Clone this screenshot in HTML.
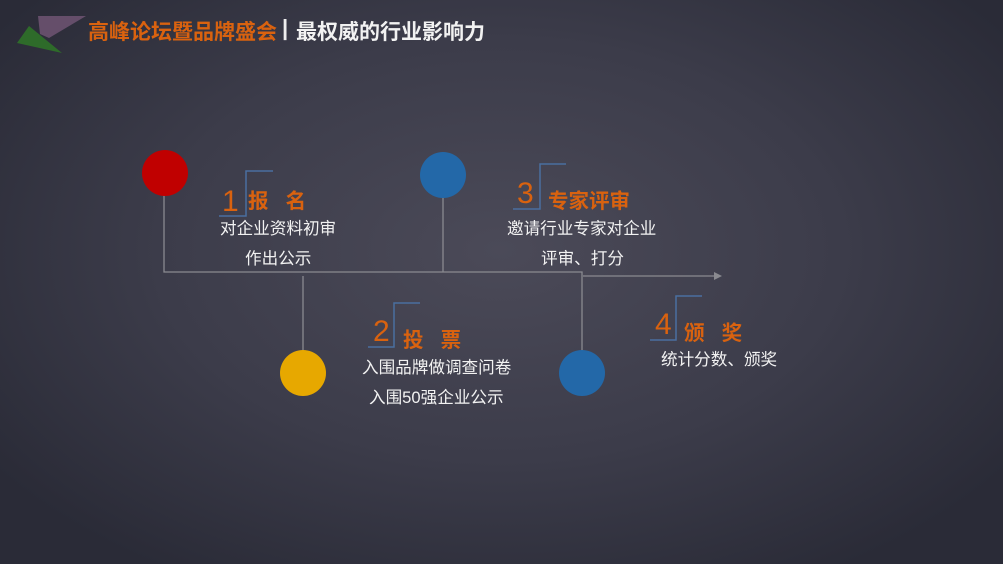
<!DOCTYPE html>
<html><head><meta charset="utf-8"><style>
*{margin:0;padding:0}
body{width:1003px;height:564px;overflow:hidden;position:relative;
background:radial-gradient(ellipse 620px 380px at 500px 250px,#4b4a58 0%,#3c3c4a 55%,#2a2b37 100%);
font-family:"Liberation Sans","Noto Sans CJK SC",sans-serif;}
.t{position:absolute;white-space:nowrap;}
.w{color:#f2f2f2;font-size:16.6px;}
.o{color:#d9620f;font-weight:bold;font-size:20.5px;}
.n{color:#d9620f;font-size:30px;}
</style></head><body>
<svg width="1003" height="564" style="position:absolute;left:0;top:0">
<polygon points="38,16 86,16 49,38 40,34" fill="#6b5270" opacity="0.9"/>
<polygon points="17,43 29,26 62,53" fill="#2e6b2a"/>
<g stroke="#8a8a90" stroke-width="1.3" fill="none">
<path d="M164,190 V272 H582 V352"/>
<path d="M443,196 V272"/>
<path d="M303,276 V352"/>
<path d="M583,276 H718"/>
</g>
<polygon points="714,272 722,276 714,280" fill="#8a8a90"/>
<circle cx="165" cy="173" r="23" fill="#c00000"/>
<circle cx="443" cy="175" r="23" fill="#2368a8"/>
<circle cx="303" cy="373" r="23" fill="#e7a800"/>
<circle cx="582" cy="373" r="23" fill="#2368a8"/>
<g stroke="#4a6fa0" stroke-width="1.5" fill="none">
<path d="M219,216 H246 V171 H273"/>
<path d="M513,209 H540 V164 H566"/>
<path d="M368,347 H394 V303 H420"/>
<path d="M650,340 H676 V296 H702"/>
</g>
</svg>
<div class="t" style="left:88px;top:16px;font-size:21px;font-weight:bold;color:#d9620f">高峰论坛暨品牌盛会</div>
<div class="t" style="left:282px;top:15px;font-size:22px;font-weight:bold;color:#eee">|</div>
<div class="t" style="left:296px;top:16px;font-size:21px;font-weight:bold;color:#f2f2f2">最权威的行业影响力</div>

<div class="t n" style="left:222px;top:185px">1</div>
<div class="t o" style="left:248px;top:184px">报&nbsp;&nbsp;&nbsp;名</div>
<div class="t w" style="left:220px;top:215px">对企业资料初审</div>
<div class="t w" style="left:245px;top:245px">作出公示</div>

<div class="t n" style="left:517px;top:177px">3</div>
<div class="t o" style="left:548px;top:184px">专家评审</div>
<div class="t w" style="left:507px;top:215px">邀请行业专家对企业</div>
<div class="t w" style="left:541px;top:245px">评审、打分</div>

<div class="t n" style="left:373px;top:315px">2</div>
<div class="t o" style="left:403px;top:323px">投&nbsp;&nbsp;&nbsp;票</div>
<div class="t w" style="left:362px;top:354px">入围品牌做调查问卷</div>
<div class="t w" style="left:369px;top:384px">入围50强企业公示</div>

<div class="t n" style="left:655px;top:308px">4</div>
<div class="t o" style="left:684px;top:316px">颁&nbsp;&nbsp;&nbsp;奖</div>
<div class="t w" style="left:661px;top:346px">统计分数、颁奖</div>
</body></html>
